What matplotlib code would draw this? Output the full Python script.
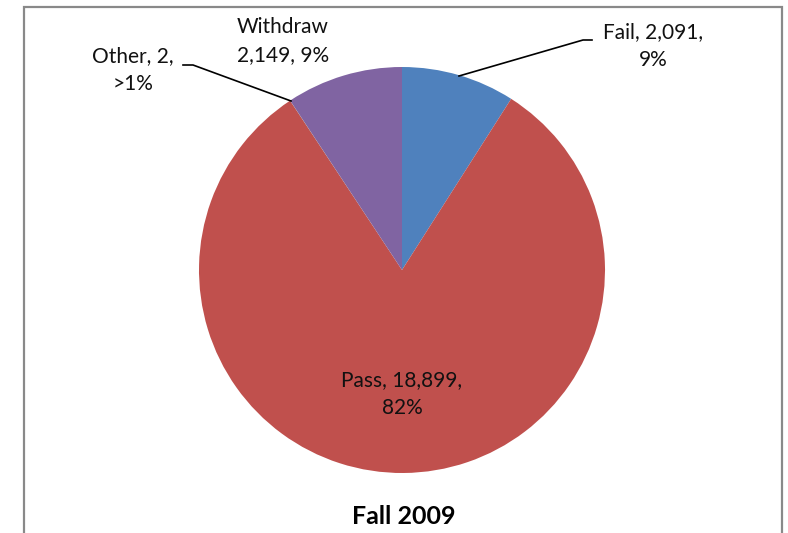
import matplotlib.pyplot as plt
from matplotlib.patches import Rectangle

categories = ["Fail", "Pass", "Other", "Withdraw"]
counts = [2091, 18899, 2, 2149]
pct_labels = ["9%", "82%", ">1%", "9%"]
colors = ["#4F81BD", "#C0504D", "#9BBB59", "#8064A2"]

W, H = 788, 533
cx, cy, r = 402, 270, 203


def to_data(px, py):
    # pixel position in the picture -> pie data coords (radius 1)
    return (px - cx) / r, (cy - py) / r


plt.rcParams["font.family"] = ["Lato", "DejaVu Sans"]

fig = plt.figure(figsize=(W / 100, H / 100), dpi=100)
fig.patches.append(Rectangle((24 / W, -0.05), (782 - 24) / W, 1.05 - 7 / H,
                             transform=fig.transFigure, fill=False,
                             edgecolor="#898989", linewidth=1.6))

ax = fig.add_axes([(cx - r) / W, (H - cy - r) / H, 2 * r / W, 2 * r / H])
ax.pie(counts, colors=colors, startangle=90, counterclock=False, radius=1,
       wedgeprops=dict(linewidth=0))
ax.set_xlim(-1, 1)
ax.set_ylim(-1, 1)
ax.set_aspect("auto")
ax.axis("off")

fs = 15
texts = [
    (f"Fail, {counts[0]:,},\n{pct_labels[0]}", 653, 46),
    (f"Pass, {counts[1]:,},\n{pct_labels[1]}", 402, 394),
    (f"Other, {counts[2]:,},\n{pct_labels[2]}", 133, 70),
    (f"Withdraw\n{counts[3]:,}, {pct_labels[3]}", 283, 41),
]
for s, px, py in texts:
    x, y = to_data(px, py)
    ax.text(x, y, s, ha="center", va="center", fontsize=fs,
            linespacing=1.45, color="#111111", clip_on=False)

# leader lines
for pts in [[(459, 76), (583, 40), (592, 40)],
            [(291, 101), (193, 65), (183, 65)]]:
    xs, ys = zip(*[to_data(*p) for p in pts])
    ax.plot(xs, ys, color="black", linewidth=1.2, clip_on=False)

fig.text(404 / W, 1 - 516 / H, "Fall 2009", ha="center", va="center",
         fontsize=18, fontweight="bold")

fig.savefig("out.png", dpi=100)
